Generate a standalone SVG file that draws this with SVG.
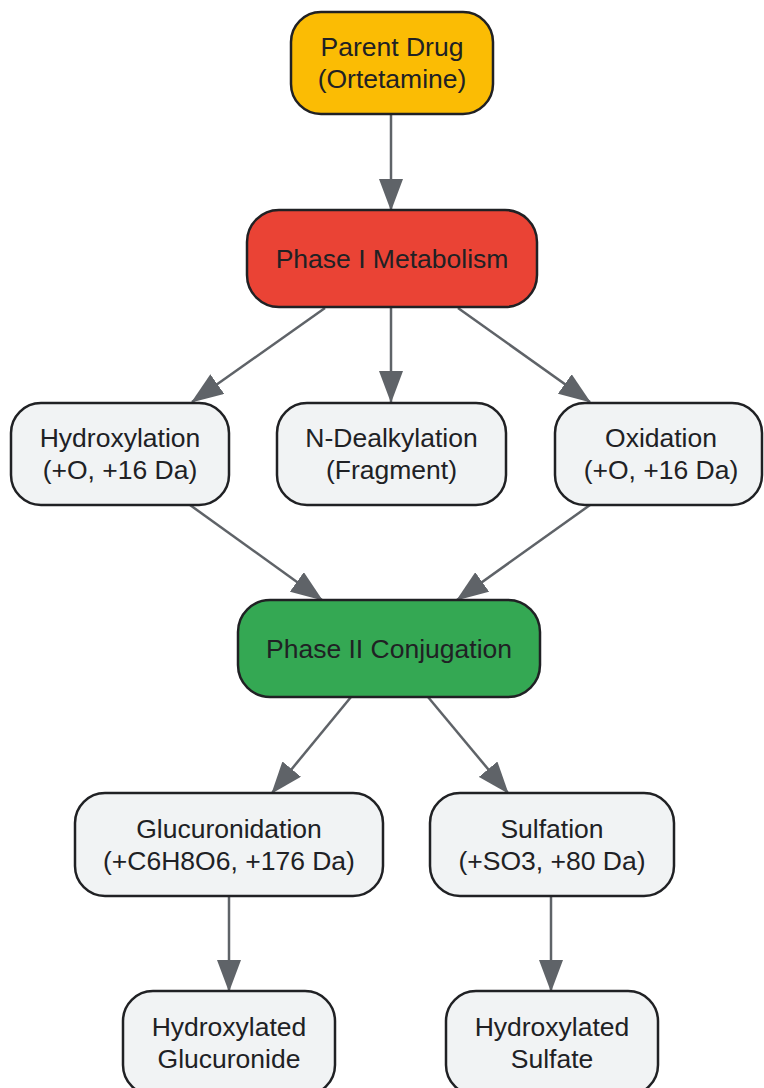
<svg xmlns="http://www.w3.org/2000/svg" width="764" height="1088" viewBox="0 0 764 1088">
<style>
.n{stroke:#202124;stroke-width:2.5}
.g{fill:#F1F3F4}
text{font-family:"Liberation Sans",Arial,sans-serif;font-size:26.5px;fill:#202124;text-anchor:middle;dominant-baseline:central}
.c line{stroke:#5F6368;stroke-width:2.5;fill:none;marker-end:url(#ah)}
</style>
<defs>
<marker id="ah" markerUnits="userSpaceOnUse" markerWidth="32" markerHeight="24" viewBox="0 0 32 24" refX="31" refY="12" orient="auto">
<path d="M0,0 L32,12 L0,24 Z" fill="#5F6368"/>
</marker>
</defs>
<rect width="764" height="1088" fill="#FFFFFF"/>
<g class="c" id="connectors">
<line x1="391" y1="114" x2="391" y2="210"/>
<line x1="325" y1="308" x2="192" y2="402"/>
<line x1="391" y1="308" x2="391" y2="402"/>
<line x1="458" y1="308" x2="590" y2="402"/>
<line x1="190" y1="505" x2="322" y2="600"/>
<line x1="590" y1="505" x2="457" y2="600"/>
<line x1="351" y1="697" x2="272" y2="793"/>
<line x1="428" y1="697" x2="508" y2="793"/>
<line x1="229" y1="896" x2="229" y2="991"/>
<line x1="551" y1="896" x2="551" y2="991"/>
</g>
<g id="parent">
<rect class="n" x="291" y="12" width="202" height="102" rx="30" fill="#FBBC04"/>
<text x="392" y="47">Parent Drug</text>
<text x="392" y="79">(Ortetamine)</text>
</g>
<g id="phase1">
<rect class="n" x="247" y="210" width="290" height="97" rx="32" fill="#EA4335"/>
<text x="392" y="258.5">Phase I Metabolism</text>
</g>
<g id="hydroxylation">
<rect class="n g" x="11" y="403" width="218" height="102" rx="30"/>
<text x="120" y="438">Hydroxylation</text>
<text x="120" y="470">(+O, +16 Da)</text>
</g>
<g id="ndealkylation">
<rect class="n g" x="277" y="403" width="229" height="102" rx="30"/>
<text x="391.5" y="438">N-Dealkylation</text>
<text x="391.5" y="470">(Fragment)</text>
</g>
<g id="oxidation">
<rect class="n g" x="555" y="403" width="207" height="102" rx="30"/>
<text x="661" y="438">Oxidation</text>
<text x="661" y="470">(+O, +16 Da)</text>
</g>
<g id="phase2">
<rect class="n" x="238" y="600" width="302" height="97" rx="32" fill="#34A853"/>
<text x="389" y="648.5">Phase II Conjugation</text>
</g>
<g id="glucuronidation">
<rect class="n g" x="75" y="793" width="308" height="103" rx="30"/>
<text x="229" y="828.5">Glucuronidation</text>
<text x="229" y="860.5">(+C6H8O6, +176 Da)</text>
</g>
<g id="sulfation">
<rect class="n g" x="430" y="793" width="244" height="103" rx="30"/>
<text x="552" y="828.5">Sulfation</text>
<text x="552" y="860.5">(+SO3, +80 Da)</text>
</g>
<g id="hglucuronide">
<rect class="n g" x="123" y="991" width="212" height="104" rx="30"/>
<text x="229" y="1027">Hydroxylated</text>
<text x="229" y="1059">Glucuronide</text>
</g>
<g id="hsulfate">
<rect class="n g" x="446" y="991" width="212" height="104" rx="30"/>
<text x="552" y="1027">Hydroxylated</text>
<text x="552" y="1059">Sulfate</text>
</g>
</svg>
